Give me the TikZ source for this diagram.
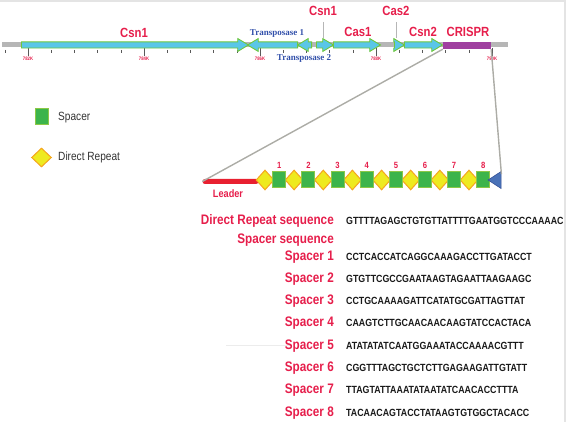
\documentclass[tikz,border=0pt]{standalone}
\usepackage{fontspec}
\setmainfont{Liberation Sans}
\newfontfamily\labfont[FakeStretch=0.85]{Liberation Sans}
\newfontfamily\tnfont{Liberation Serif}
\usetikzlibrary{arrows,shapes}

\definecolor{labred}{RGB}{230,30,75}
\definecolor{tnblue}{RGB}{50,80,170}
\definecolor{genecyan}{RGB}{90,198,232}
\definecolor{genegreen}{RGB}{110,200,60}
\definecolor{crpurple}{RGB}{160,64,160}
\definecolor{chromgray}{RGB}{182,182,182}
\definecolor{zoomgray}{RGB}{172,172,166}
\definecolor{spgreen}{RGB}{60,180,75}
\definecolor{spborder}{RGB}{140,200,70}
\definecolor{dryellow}{RGB}{238,234,32}
\definecolor{drorange}{RGB}{245,165,30}
\definecolor{ldred}{RGB}{232,32,48}
\definecolor{tipblue}{RGB}{74,114,184}
\definecolor{tipborder}{RGB}{50,80,150}
\definecolor{framegray}{RGB}{228,228,228}

\begin{document}
\begin{tikzpicture}[x=1pt,y=-1pt,
    gene/.style={single arrow,fill=genecyan,draw=genegreen,line width=0.9pt,inner xsep=0pt,inner ysep=2.6pt,
        single arrow head extend=3.4pt,single arrow tip angle=62,anchor=tail},
    lab/.style={font=\labfont\fontsize{13.3}{13}\selectfont\bfseries,text=labred,inner sep=0pt},
    tnlab/.style={font=\tnfont\fontsize{9}{9}\selectfont\bfseries,text=tnblue,inner sep=0pt},
    klab/.style={font=\labfont\fontsize{5}{5}\selectfont\bfseries,text=labred,inner sep=0pt},
    leglab/.style={font=\labfont\fontsize{11.9}{12}\selectfont,text=black!80,inner sep=0pt,anchor=base west},
    seqlab/.style={font=\labfont\fontsize{13.8}{14}\selectfont\bfseries,text=labred,inner sep=0pt,anchor=base east},
    seq/.style={font=\labfont\fontsize{10.4}{10}\selectfont\bfseries,text=black!90,inner sep=0pt,anchor=base west},
    numlab/.style={font=\labfont\fontsize{9}{9}\selectfont\bfseries,text=labred,inner sep=0pt},
    spbox/.style={rectangle,fill=spgreen,draw=spborder,line width=1pt,inner sep=0pt,minimum width=13pt,minimum height=16pt},
    drbox/.style={diamond,fill=dryellow,draw=drorange,line width=1pt,inner sep=0pt,minimum width=18pt,minimum height=20pt},
    tickmark/.style={draw=black!65,line width=0.6pt},
    pointer/.style={draw=chromgray,line width=0.8pt},
    zoomline/.style={draw=zoomgray,line width=1.4pt}]
    \useasboundingbox (0,0) rectangle (570,422);
    % frame
    \draw[framegray,line width=1.5pt] (0,1) -- (565,1) -- (565,422);
    \draw[framegray!70,line width=0.8pt] (226,345) -- (292,345);

    % chromosome
    \draw[chromgray,line width=5pt] (2,45) -- (508,45);
    \foreach \i in {0,...,21} \draw[tickmark] (4.8+23.2*\i,50) -- (4.8+23.2*\i,53);
    \foreach \x in {28,144,260,376,492} \draw[tickmark] (\x,48) -- (\x,56);
    \node[klab](k782)at(28, 59){782K};
    \node[klab](k784)at(144, 59){784K};
    \node[klab](k786)at(260, 59){786K};
    \node[klab](k788)at(376, 59){788K};
    \node[klab](k790)at(492, 59){790K};

    \node[gene,minimum height=227pt](g1)at(21, 45){};
    \node[gene,shape border rotate=180,minimum height=50pt](g2)at(298, 45){};
    \node[gene,shape border rotate=180,minimum height=14pt](g3)at(312, 45){};
    \node[gene,minimum height=17pt](g4)at(316, 45){};
    \node[gene,minimum height=47pt](g5)at(333, 45){};
    \node[gene,minimum height=10pt](g6)at(394, 45){};
    \node[gene,minimum height=38pt](g7)at(404, 45){};
    \node[fill=crpurple,inner sep=0pt,minimum width=48pt,minimum height=7pt](crispr)at(467, 45.5){};

    \node[lab](csn1)at(134, 33){Csn1};
    \node[tnlab](tn1)at(277, 33){Transposase 1};
    \node[tnlab](tn2)at(304, 58){Transposase 2};
    \node[lab](csn1b)at(323, 11){Csn1};
    \node[lab](cas1)at(358, 32){Cas1};
    \node[lab](cas2)at(396, 11){Cas2};
    \node[lab](csn2)at(423, 32){Csn2};
    \node[lab](crlab)at(468, 32){CRISPR};
    \path[pointer] (csn1b.south) edge[shorten <=6pt] (csn1b.south |- 0,38)
        (cas2.south) edge[shorten <=6pt] (cas2.south |- 0,38);

    % legend
    \node[spbox](legsp)at(41.5, 116.5){};
    \node[leglab](legsptext)at(58, 120.5){Spacer};
    \node[drbox,minimum width=20pt,minimum height=19pt](legdr)at(41.5, 157.5){};
    \node[leglab](legdrtext)at(58, 160.5){Direct Repeat};

    % CRISPR array
    \node[fill=ldred,rounded corners=2.5pt,inner sep=0pt,minimum width=56pt,minimum height=5pt](leader)at(230.5, 181.5){};
    \node[numlab,font=\labfont\fontsize{10.8}{11}\selectfont\bfseries](ldlab)at(228, 194){Leader};
    \node[drbox](r1)at(265, 180){};
    \node[drbox](r2)at(294.1, 180){};
    \node[drbox](r3)at(323.3, 180){};
    \node[drbox](r4)at(352.4, 180){};
    \node[drbox](r5)at(381.6, 180){};
    \node[drbox](r6)at(410.7, 180){};
    \node[drbox](r7)at(439.8, 180){};
    \node[drbox](r8)at(469, 180){};
    \node[spbox](s1)at(279.3, 180){};
    \node[spbox](s2)at(308.4, 180){};
    \node[spbox](s3)at(337.6, 180){};
    \node[spbox](s4)at(366.7, 180){};
    \node[spbox](s5)at(395.9, 180){};
    \node[spbox](s6)at(425, 180){};
    \node[spbox](s7)at(454.1, 180){};
    \node[spbox](s8)at(483.3, 180){};
    \node[numlab](n1)at(279.3, 165){1};
    \node[numlab](n2)at(308.4, 165){2};
    \node[numlab](n3)at(337.6, 165){3};
    \node[numlab](n4)at(366.7, 165){4};
    \node[numlab](n5)at(395.9, 165){5};
    \node[numlab](n6)at(425, 165){6};
    \node[numlab](n7)at(454.1, 165){7};
    \node[numlab](n8)at(483.3, 165){8};
    \node[isosceles triangle,isosceles triangle stretches,shape border rotate=180,fill=tipblue,draw=tipborder,
        line width=0.6pt,inner sep=0pt,minimum width=17pt,minimum height=13pt](tip)at(496.5, 180){};
    \path[zoomline] (crispr.south west) edge (leader.west)
        (crispr.south east) edge (tip.east |- tip.north);

    % sequences
    \node[seqlab](drs)at(334, 225){Direct Repeat sequence};
    \node[seq](drseq)at(346, 225){GTTTTAGAGCTGTGTTATTTTGAATGGTCCCAAAAC};
    \node[seqlab](sps)at(334, 243.5){Spacer sequence};
    \node[seqlab](sp1)at(334, 260){Spacer 1};
    \node[seq](seq1)at(346, 260){CCTCACCATCAGGCAAAGACCTTGATACCT};
    \node[seqlab](sp2)at(334, 282.3){Spacer 2};
    \node[seq](seq2)at(346, 282.3){GTGTTCGCCGAATAAGTAGAATTAAGAAGC};
    \node[seqlab](sp3)at(334, 304.6){Spacer 3};
    \node[seq](seq3)at(346, 304.6){CCTGCAAAAGATTCATATGCGATTAGTTAT};
    \node[seqlab](sp4)at(334, 326.9){Spacer 4};
    \node[seq](seq4)at(346, 326.9){CAAGTCTTGCAACAACAAGTATCCACTACA};
    \node[seqlab](sp5)at(334, 349.2){Spacer 5};
    \node[seq](seq5)at(346, 349.2){ATATATATCAATGGAAATACCAAAACGTTT};
    \node[seqlab](sp6)at(334, 371.5){Spacer 6};
    \node[seq](seq6)at(346, 371.5){CGGTTTAGCTGCTCTTGAGAAGATTGTATT};
    \node[seqlab](sp7)at(334, 393.8){Spacer 7};
    \node[seq](seq7)at(346, 393.8){TTAGTATTAAATATAATATCAACACCTTTA};
    \node[seqlab](sp8)at(334, 416.1){Spacer 8};
    \node[seq](seq8)at(346, 416.1){TACAACAGTACCTATAAGTGTGGCTACACC};
\end{tikzpicture}
\end{document}
